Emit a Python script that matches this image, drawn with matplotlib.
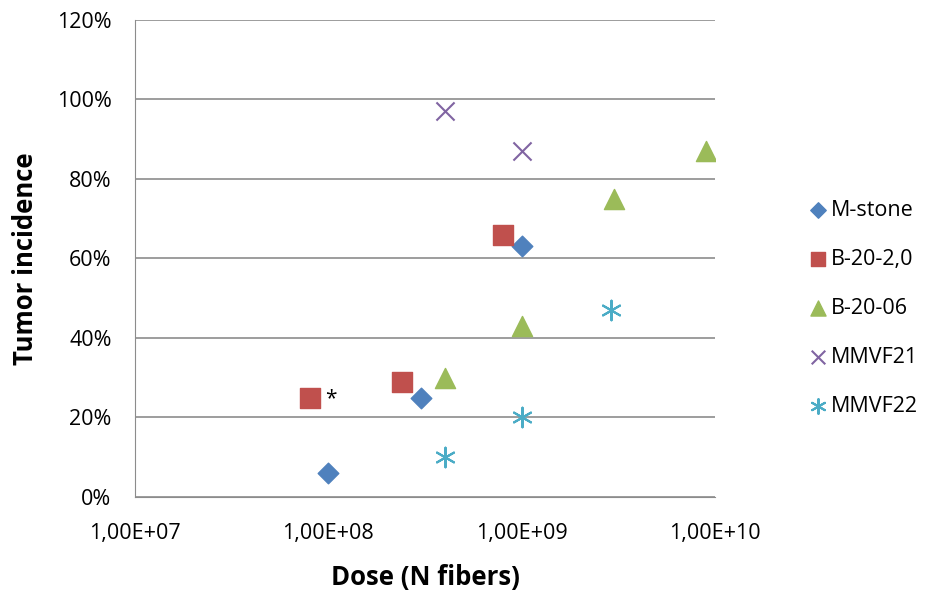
import math
import matplotlib.pyplot as plt
from matplotlib.ticker import FixedLocator, FuncFormatter, NullLocator

plt.rcParams['font.family'] = ['Open Sans', 'DejaVu Sans']

# dose (N fibers) and tumor incidence (%) per fiber type
mstone_dose = [1e8, 3e8, 1e9]
mstone_inc = [6, 25, 63]
b202_dose = [8e7, 2.4e8, 8e8]
b202_inc = [25, 29, 66]
b2006_dose = [4e8, 1e9, 3e9, 9e9]
b2006_inc = [30, 43, 75, 87]
mmvf21_dose = [4e8, 1e9]
mmvf21_inc = [97, 87]
mmvf22_dose = [4e8, 1e9, 2.9e9]
mmvf22_inc = [10, 20, 47]

fig = plt.figure(figsize=(9.32, 5.92), dpi=100)
ax = fig.add_axes([0.145, 0.1605, 0.622, 0.806])

ax.scatter(mstone_dose, mstone_inc, marker='D', s=110, color='#4F81BD', label='M-stone', zorder=3)
ax.scatter(b202_dose, b202_inc, marker='s', s=200, color='#C0504D', label='B-20-2,0', zorder=3)
ax.scatter(b2006_dose, b2006_inc, marker='^', s=210, color='#9BBB59', label='B-20-06', zorder=3)
ax.scatter(mmvf21_dose, mmvf21_inc, marker='x', s=170, color='#8064A2', linewidths=1.5,
           label='MMVF21', zorder=3)
ax.scatter(mmvf22_dose, mmvf22_inc, marker=(6, 2, 0), s=200, color='#4BACC6', linewidths=1.5,
           label='MMVF22', zorder=3)

# significance mark next to the lowest B-20-2,0 dose
ax.annotate('*', (b202_dose[0], b202_inc[0]), xytext=(11, -1), textcoords='offset points',
            fontsize=15, ha='left', va='center')

ax.set_xscale('log')
ax.set_xlim(1e7, 1e10)
ax.set_ylim(0, 120)
ax.xaxis.set_major_locator(FixedLocator([1e7, 1e8, 1e9, 1e10]))
ax.xaxis.set_minor_locator(NullLocator())
ax.xaxis.set_major_formatter(FuncFormatter(lambda v, p: '1,00E+%02d' % round(math.log10(v))))
ax.set_yticks(range(0, 121, 20))
ax.yaxis.set_major_formatter(FuncFormatter(lambda v, p: '%d%%' % v))
ax.tick_params(length=0, labelsize=15.5)
ax.tick_params(axis='y', pad=17)
ax.tick_params(axis='x', pad=19)

ax.grid(axis='y', color='#8C8C8C', linewidth=1.2)
ax.set_axisbelow(True)
for side in ['top', 'right']:
    ax.spines[side].set_visible(False)
ax.spines['left'].set_color('#8C8C8C')
ax.spines['bottom'].set_color('#8C8C8C')

ax.set_xlabel('Dose (N fibers)', fontsize=18.5, fontweight='bold', labelpad=14)
ax.set_ylabel('Tumor incidence', fontsize=18.5, fontweight='bold', labelpad=13)

ax.legend(loc='center left', bbox_to_anchor=(1.14, 0.395), frameon=False, fontsize=15.5,
          handletextpad=0.0, labelspacing=1.3, borderaxespad=0, scatterpoints=1,
          markerscale=0.75, handlelength=1.2)

fig.savefig('out.png', dpi=100)
